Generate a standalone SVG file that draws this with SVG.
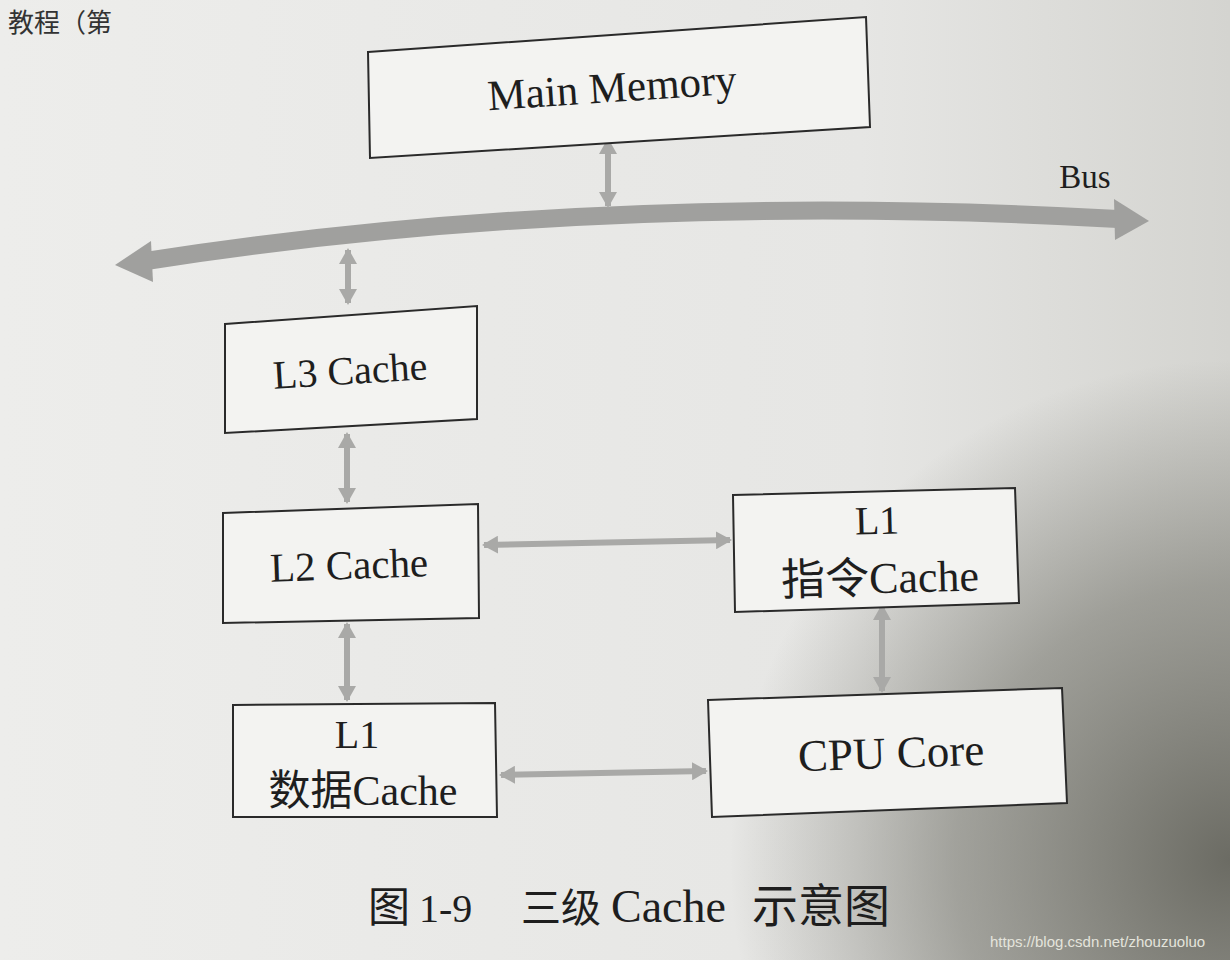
<svg xmlns="http://www.w3.org/2000/svg" width="1230" height="960" viewBox="0 0 1230 960">
<style>
.box{fill:#f3f3f1;stroke:#2a2a2a;stroke-width:2}
.t{font-family:"Liberation Serif","Noto Sans CJK SC",serif;fill:#1e1e1e;text-anchor:middle}
.s{font-family:"Liberation Serif","Noto Sans CJK SC",serif;fill:#1e1e1e;font-size:42px}
.c{fill:none;stroke:#a9a9a7;stroke-width:6}
.bus{fill:#a0a09e}
</style>
<defs>
<linearGradient id="bg" x1="0" y1="0" x2="1" y2="0">
<stop offset="0" stop-color="#ededeb"/>
<stop offset="0.7" stop-color="#e6e6e4"/>
<stop offset="1" stop-color="#d4d4d0"/>
</linearGradient>
<radialGradient id="sh" cx="1230" cy="860" r="500" gradientUnits="userSpaceOnUse">
<stop offset="0" stop-color="#66665e" stop-opacity="0.95"/>
<stop offset="0.55" stop-color="#77776f" stop-opacity="0.6"/>
<stop offset="1" stop-color="#77776f" stop-opacity="0"/>
</radialGradient>
<marker id="ah" viewBox="0 0 16 18" refX="14" refY="9" markerWidth="16" markerHeight="18" markerUnits="userSpaceOnUse" orient="auto-start-reverse">
<path d="M0 0 L16 9 L0 18 Z" fill="#a9a9a7"/>
</marker>
</defs>
<rect width="1230" height="960" fill="url(#bg)"/>
<rect width="1230" height="960" fill="url(#sh)"/>
<text x="8" y="32" font-family="Noto Sans CJK SC,sans-serif" font-size="26" fill="#333">教程（第</text>

<g id="connectors">
<path d="M146 261 Q600 190 1118 219" fill="none" stroke="#a0a09e" stroke-width="18"/>
<polygon class="bus" points="115,265 151,241 153,282"/>
<polygon class="bus" points="1149,221 1114,199 1115,240"/>
<path class="c" d="M608 140 L608 206" marker-start="url(#ah)" marker-end="url(#ah)"/>
<path class="c" d="M348 250 L348 303" marker-start="url(#ah)" marker-end="url(#ah)"/>
<path class="c" d="M347 434 L347 502" marker-start="url(#ah)" marker-end="url(#ah)"/>
<path class="c" d="M347 624 L347 700" marker-start="url(#ah)" marker-end="url(#ah)"/>
<path class="c" d="M484 545 L730 540" marker-start="url(#ah)" marker-end="url(#ah)"/>
<path class="c" d="M882 606 L882 691" marker-start="url(#ah)" marker-end="url(#ah)"/>
<path class="c" d="M501 775 L706 771" marker-start="url(#ah)" marker-end="url(#ah)"/>
</g>

<text class="t" x="1085" y="188" font-size="33">Bus</text>

<g id="main-memory">
<polygon class="box" points="368,52 866,17 870,127 370,158"/>
<text class="t" x="612" y="102" font-size="43" transform="rotate(-3.8 612 88)">Main Memory</text>
</g>
<g id="l3">
<polygon class="box" points="225,324 477,306 477,419 225,433"/>
<text class="t" x="350" y="384" font-size="40" transform="rotate(-3.5 350 370)">L3 Cache</text>
</g>
<g id="l2">
<polygon class="box" points="223,513 478,504 479,618 223,623"/>
<text class="t" x="349" y="579" font-size="41" transform="rotate(-2 349 565)">L2 Cache</text>
</g>
<g id="l1-data">
<polygon class="box" points="233,705 495,703 497,817 233,817"/>
<text class="t" x="357" y="748" font-size="40">L1</text>
<text class="t" x="363" y="805" font-size="42">数据Cache</text>
</g>
<g id="l1-inst">
<polygon class="box" points="733,495 1015,488 1019,603 735,612"/>
<text class="t" x="877" y="534" font-size="40" transform="rotate(-1.5 877 520)">L1</text>
<text class="t" x="880" y="593" font-size="44" transform="rotate(-1.5 880 578)">指令Cache</text>
</g>
<g id="cpu-core">
<polygon class="box" points="708,700 1062,688 1067,803 712,817"/>
<text class="t" x="891" y="768" font-size="45" transform="rotate(-2 891 752)">CPU Core</text>
</g>

<g id="caption">
<text class="s" x="368" y="922">图</text>
<text class="s" x="419" y="922" style="font-size:40px">1-9</text>
<text class="s" x="521" y="922" style="font-size:40px">三级</text>
<text class="s" x="611" y="922" style="font-size:46px">Cache</text>
<text class="s" x="752" y="922" style="font-size:46px">示意图</text>
</g>
<text x="990" y="947" font-family="Liberation Sans,sans-serif" font-size="15" fill="#e4e4dc">https://blog.csdn.net/zhouzuoluo</text>
</svg>
